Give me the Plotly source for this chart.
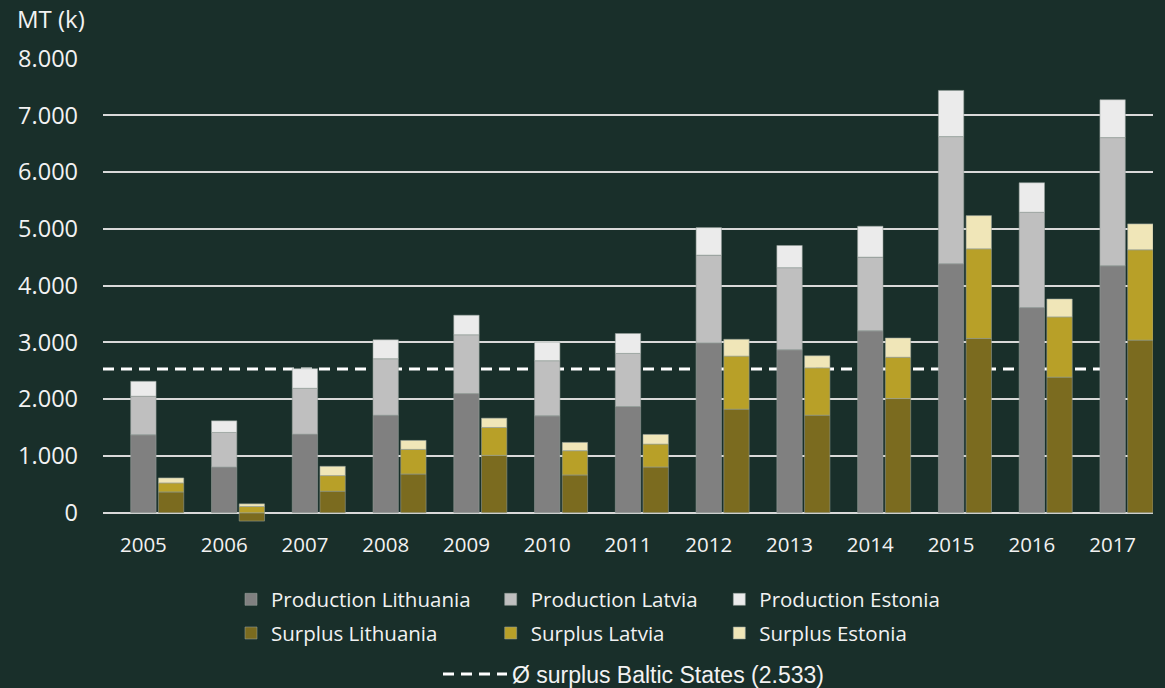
import plotly.graph_objects as go

# ---------------- data (MT, thousands) ----------------
years = ["2005", "2006", "2007", "2008", "2009", "2010", "2011",
         "2012", "2013", "2014", "2015", "2016", "2017"]

prod_lithuania = [1374, 807, 1386, 1719, 2099, 1708, 1871, 2994, 2871, 3205, 4386, 3614, 4351]
prod_latvia = [679, 608, 807, 994, 1036, 970, 936, 1544, 1445, 1298, 2240, 1679, 2257]
prod_estonia = [263, 205, 345, 334, 345, 328, 351, 485, 392, 544, 813, 520, 667]

surplus_lithuania = [368, -146, 380, 684, 1012, 667, 807, 1825, 1719, 2012, 3070, 2389, 3041]
surplus_latvia = [158, 111, 275, 433, 491, 427, 404, 935, 834, 728, 1579, 1061, 1591]
surplus_estonia = [88, 47, 164, 158, 164, 146, 169, 296, 213, 339, 585, 316, 456]

avg_surplus = 2533
y_ticks = [0, 1000, 2000, 3000, 4000, 5000, 6000, 7000, 8000]

# ---------------- styling ----------------
BG = "#192f2a"
TXT = "#f2f2f2"
GRID = "#d9d9d9"
W, H = 1165, 688
BAR_W = 0.314
SURPLUS_SHIFT = 0.343

idx = list(range(len(years)))
x_prod = idx
x_surp = [i + SURPLUS_SHIFT for i in idx]

edge = dict(color="rgba(150,160,155,0.55)", width=1)

series = [
    ("Production Lithuania", prod_lithuania, x_prod, "#808080", "legend"),
    ("Surplus Lithuania", surplus_lithuania, x_surp, "#7b6b1f", "legend"),
    ("Production Latvia", prod_latvia, x_prod, "#bfbfbf", "legend2"),
    ("Surplus Latvia", surplus_latvia, x_surp, "#b8a028", "legend2"),
    ("Production Estonia", prod_estonia, x_prod, "#ebebeb", "legend3"),
    ("Surplus Estonia", surplus_estonia, x_surp, "#f0e6b8", "legend3"),
]

fig = go.Figure()
for name, vals, xs, col, leg in series:
    fig.add_trace(go.Bar(
        x=xs, y=vals, name=name, width=BAR_W,
        marker=dict(color=col, line=edge),
        legend=leg, legendgroup=name, zorder=1,
    ))

avg_label = "Ø surplus Baltic States ({})".format(f"{avg_surplus:,}".replace(",", "."))
fig.add_trace(go.Scatter(
    x=[-0.5, len(years) - 0.5], y=[avg_surplus, avg_surplus],
    mode="lines", name=avg_label,
    line=dict(color="#ffffff", width=3, dash="11px,7px"),
    legend="legend4", zorder=0, hoverinfo="skip",
))

leg_common = dict(
    orientation="v", xref="container", yref="container",
    xanchor="left", yanchor="top", bgcolor="rgba(0,0,0,0)",
    borderwidth=0, traceorder="grouped", tracegroupgap=4,
    font=dict(family="Open Sans", size=20.5, color=TXT),
)
y_leg = 1 - 579.5 / H

fig.update_layout(
    width=W, height=H,
    paper_bgcolor=BG, plot_bgcolor=BG,
    margin=dict(l=103, r=12, t=58, b=161, autoexpand=False),
    barmode="relative",
    separators=",.",
    title=dict(
        text="MT (k)", x=17 / W, xref="container", xanchor="left",
        y=1 - 20 / H, yref="container", yanchor="middle",
        font=dict(family="Open Sans", size=24, color=TXT),
    ),
    legend=dict(leg_common, x=231 / W, y=y_leg),
    legend2=dict(leg_common, x=490.7 / W, y=y_leg),
    legend3=dict(leg_common, x=719.3 / W, y=y_leg),
    legend4=dict(
        leg_common, x=438 / W, y=1 - 652.5 / H, itemwidth=64,
        font=dict(family="Liberation Sans", size=23, color=TXT),
    ),
    xaxis=dict(
        range=[-0.5, len(years) - 0.5],
        tickmode="array", tickvals=idx, ticktext=years,
        showgrid=False, zeroline=False, showline=False, ticks="",
        tickfont=dict(family="Open Sans", size=20.5, color=TXT),
        ticklabelstandoff=3,
    ),
    yaxis=dict(
        range=[-250, 8010],
        tickmode="array", tickvals=y_ticks, tickformat=",d",
        showgrid=True, gridcolor=GRID, gridwidth=1.5,
        zeroline=True, zerolinecolor=GRID, zerolinewidth=1.5,
        showline=False, ticks="",
        tickfont=dict(family="Open Sans", size=23.5, color=TXT),
        ticklabelstandoff=24,
    ),
    showlegend=True,
)

fig.write_html(
    "out.html",
    config={"displayModeBar": False},
    post_script="document.body.style.margin='0';document.body.style.padding='0';"
                "document.body.style.background='" + BG + "';",
)
